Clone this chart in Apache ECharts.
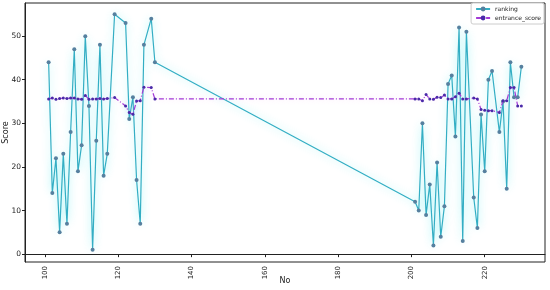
<!DOCTYPE html>
<html>
<head>
<meta charset="utf-8">
<script src="https://cdn.jsdelivr.net/npm/echarts@6/dist/echarts.min.js"></script>
<style>
  html, body { margin: 0; padding: 0; background: #fff; }
  #chart { width: 550px; height: 290px; }
</style>
</head>
<body>
<div id="chart"></div>
<script>
// student numbers (x)
var nos = [101, 102, 103, 104, 105, 106, 107, 108, 109, 110, 111, 112, 113, 114, 115, 116, 117, 119,
  122, 123, 124, 125, 126, 127, 129, 130,
  201, 202, 203, 204, 205, 206, 207, 208, 209, 210, 211, 212, 213, 214, 215,
  217, 218, 219, 220, 221, 222, 224, 225, 226, 227, 228, 229, 230]
var ranking = [44, 14, 22, 5, 23, 7, 28, 47, 19, 25, 50, 34, 1, 26, 48, 18, 23, 55,
  53, 31, 36, 17, 7, 48, 54, 44,
  12, 10, 30, 9, 16, 2, 21, 4, 11, 39, 41, 27, 52, 3, 51,
  13, 6, 32, 19, 40, 42, 28, 35, 15, 44, 36, 36, 43]
var entranceScore = [35.6, 35.8, 35.5, 35.7, 35.8, 35.7, 35.8, 35.8, 35.6, 35.5, 36.4, 35.5, 35.6, 35.6, 35.7, 35.6, 35.7, 35.9,
  34.0, 32.5, 32.1, 35.1, 35.2, 38.3, 38.2, 35.6,
  35.6, 35.6, 35.2, 36.6, 35.6, 35.5, 36.0, 35.9, 36.5, 35.6, 35.6, 36.1, 36.9, 35.6, 35.6,
  35.8, 35.6, 33.2, 33.0, 32.9, 32.9, 32.5, 35.2, 35.2, 38.2, 38.2, 34.0, 34.0]
var xTicks = [100, 120, 140, 160, 180, 200, 220]
var yTicks = [0, 10, 20, 30, 40, 50]

var fontName = 'DejaVu Sans'

function pairs(ys) {
  return nos.map(function(n, i) { return [n, ys[i]] })
}

var chart = echarts.init(document.getElementById('chart'))
var option = {
  animation: false,
  textStyle: { fontFamily: fontName },
  grid: {
    left: 25, right: 5, top: 3, bottom: 28,
    outerBoundsMode: 'none',
    containLabel: false,
    show: true, borderColor: '#222', borderWidth: 1
  },
  legend: {
    right: 6, top: 3,
    orient: 'vertical',
    itemWidth: 14, itemHeight: 6, itemGap: 3,
    padding: [3, 3, 3, 4],
    borderColor: '#ccc', borderWidth: 1, borderRadius: 2,
    backgroundColor: '#fff',
    textStyle: { fontSize: 6, color: '#222', fontFamily: fontName },
    data: ['ranking', 'entrance_score']
  },
  xAxis: {
    type: 'value',
    min: 94.55, max: 236.45,
    name: 'No', nameLocation: 'middle', nameGap: 15,
    nameMoveOverlap: false,
    nameTextStyle: { fontSize: 8, color: '#222' },
    axisLine: { show: true, lineStyle: { color: '#222' } },
    axisTick: { show: true, length: 3, customValues: xTicks, lineStyle: { color: '#222' } },
    axisLabel: { rotate: 90, fontSize: 7, color: '#222', margin: 4, customValues: xTicks },
    splitLine: { show: false }
  },
  yAxis: {
    type: 'value',
    min: -1.8, max: 57.6,
    name: 'Score', nameLocation: 'middle', nameGap: 15,
    nameMoveOverlap: false,
    nameTextStyle: { fontSize: 8, color: '#222' },
    axisLine: { show: true, lineStyle: { color: '#222' } },
    axisTick: { show: true, length: 3, customValues: yTicks, lineStyle: { color: '#222' } },
    axisLabel: { fontSize: 7.5, color: '#222', margin: 4, customValues: yTicks },
    splitLine: { show: false }
  },
  series: [
    {
      name: 'ranking',
      type: 'line',
      data: pairs(ranking),
      symbol: 'circle',
      symbolSize: 4,
      itemStyle: { color: '#56809f' },
      lineStyle: {
        color: '#33aec4', width: 1.2,
        shadowColor: 'rgba(0, 225, 230, 0.45)', shadowBlur: 8
      },
      z: 2
    },
    {
      name: 'entrance_score',
      type: 'line',
      data: pairs(entranceScore),
      symbol: 'circle',
      symbolSize: 3,
      itemStyle: { color: '#4a2aa8' },
      lineStyle: {
        color: '#a33ad6', width: 1.2, type: [5, 2, 1, 2],
        shadowColor: 'rgba(240, 120, 240, 0.3)', shadowBlur: 5
      },
      z: 3
    }
  ]
}
chart.setOption(option)
</script>
</body>
</html>
